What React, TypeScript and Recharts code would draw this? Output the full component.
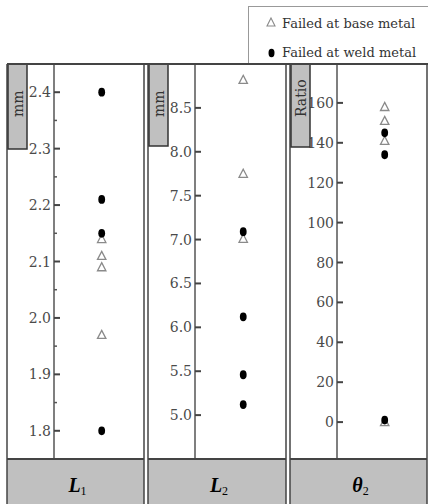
import React from "react";
import { ScatterChart, Scatter, XAxis, YAxis } from "recharts";

// values
const l1Base = [2.14, 2.11, 2.09, 1.97];
const l1Weld = [2.4, 2.21, 2.15, 1.8];
const l2Base = [8.82, 7.75, 7.01];
const l2Weld = [7.09, 6.12, 5.46, 5.12];
const t2Base = [158, 151, 141, 0];
const t2Weld = [145, 134, 1];

const l1Ticks = [1.8, 1.9, 2.0, 2.1, 2.2, 2.3, 2.4];
const l1Minor = [1.85, 1.95, 2.05, 2.15, 2.25, 2.35];
const l2Ticks = [5.0, 5.5, 6.0, 6.5, 7.0, 7.5, 8.0, 8.5];
const t2Ticks = [0, 20, 40, 60, 80, 100, 120, 140, 160];

const legendLabels = ["Failed at base metal", "Failed at weld metal"];

const TOP = 64;
const PLOT_H = 395;
const FONT = "'DejaVu Serif', serif";

const toPoints = (arr: number[]) => arr.map((v) => ({ x: 0.53, y: v }));

const Triangle = (props: any) => {
  const { cx, cy } = props;
  return (
    <path
      d={`M${cx},${cy - 4.5}L${cx + 4.2},${cy + 3.6}L${cx - 4.2},${cy + 3.6}Z`}
      fill="#fff"
      stroke="#8a8a8a"
      strokeWidth={1.3}
    />
  );
};

const Dot = (props: any) => {
  const { cx, cy } = props;
  return <ellipse cx={cx} cy={cy} rx={3.4} ry={4.4} fill="#000" />;
};

const makeTick = (minor: number[], digits: number) => (props: any) => {
  const { x, y, payload } = props;
  const ax = x + 3; // tickSize 0, tickMargin 3
  if (minor.includes(payload.value)) {
    return <line x1={ax} x2={ax + 3} y1={y} y2={y} stroke="#555" strokeWidth={1.5} />;
  }
  return (
    <g>
      <line x1={ax} x2={ax + 6} y1={y} y2={y} stroke="#444" strokeWidth={2} />
      <text
        x={x}
        y={y}
        dy="0.36em"
        textAnchor="end"
        fontFamily={FONT}
        fontSize={14}
        fill="#4a4a4a"
      >
        {payload.value.toFixed(digits)}
      </text>
    </g>
  );
};

type PanelProps = {
  left: number;
  width: number;
  axisX: number;
  domain: [number, number];
  ticks: number[];
  minor: number[];
  digits: number;
  base: number[];
  weld: number[];
};

const Panel = ({ left, width, axisX, domain, ticks, minor, digits, base, weld }: PanelProps) => (
  <div style={{ position: "absolute", left, top: TOP }}>
    <ScatterChart width={width} height={PLOT_H} margin={{ top: 0, right: 0, bottom: 0, left: 0 }}>
      <XAxis type="number" dataKey="x" domain={[0, 1]} hide />
      <YAxis
        type="number"
        dataKey="y"
        domain={domain}
        ticks={[...ticks, ...minor]}
        interval={0}
        width={axisX - left}
        axisLine={{ stroke: "#555", strokeWidth: 1.5 }}
        tickLine={false}
        tickSize={0}
        tickMargin={3}
        tick={makeTick(minor, digits)}
        allowDataOverflow
      />
      <Scatter data={toPoints(base)} shape={Triangle} isAnimationActive={false} />
      <Scatter data={toPoints(weld)} shape={Dot} isAnimationActive={false} />
    </ScatterChart>
  </div>
);

const panels = [
  { left: 7, right: 144, unit: "mm", boxBottom: 149, title: "L", sub: "1" },
  { left: 148, right: 286, unit: "mm", boxBottom: 146, title: "L", sub: "2" },
  { left: 290, right: 427, unit: "Ratio", boxBottom: 147, title: "\u03b8", sub: "2" },
];

export default function App() {
  return (
    <div
      style={{
        position: "absolute",
        left: 0,
        top: 0,
        width: 428,
        height: 504,
        overflow: "hidden",
        background: "#fff",
      }}
    >
      <Panel left={7} width={137} axisX={54} domain={[1.75, 2.45]} ticks={l1Ticks} minor={l1Minor} digits={1} base={l1Base} weld={l1Weld} />
      <Panel left={148} width={138} axisX={195} domain={[4.5, 9.0]} ticks={l2Ticks} minor={[]} digits={1} base={l2Base} weld={l2Weld} />
      <Panel left={290} width={137} axisX={337} domain={[-18.5, 179.5]} ticks={t2Ticks} minor={[]} digits={0} base={t2Base} weld={t2Weld} />

      <svg width={428} height={504} style={{ position: "absolute", left: 0, top: 0, pointerEvents: "none" }}>
        {/* legend */}
        <rect x={248.5} y={6.5} width={190} height={58} fill="#fff" stroke="#999" strokeWidth={1} />
        <path d="M271,18L275,26L267,26Z" fill="#fff" stroke="#8a8a8a" strokeWidth={1.1} />
        <text x={282} y={28} fontFamily={FONT} fontSize={13} fill="#333">
          {legendLabels[0]}
        </text>
        <ellipse cx={271.5} cy={53} rx={3} ry={4.2} fill="#000" />
        <text x={282} y={57} fontFamily={FONT} fontSize={13} fill="#333">
          {legendLabels[1]}
        </text>

        {panels.map((p, i) => (
          <g key={i}>
            <rect x={p.left} y={459} width={p.right - p.left} height={50} fill="#c0c0c0" />
            <line x1={p.left} x2={p.right} y1={459} y2={459} stroke="#444" strokeWidth={2} />
            <line x1={p.left} x2={p.left} y1={TOP} y2={510} stroke="#444" strokeWidth={1.5} />
            <line x1={p.right} x2={p.right} y1={TOP} y2={510} stroke="#444" strokeWidth={1.5} />
            <rect x={p.left + 1} y={TOP} width={19} height={p.boxBottom - TOP} fill="#c0c0c0" stroke="#333" strokeWidth={1.5} />
            <text
              x={p.left + 16}
              y={117}
              transform={`rotate(-90 ${p.left + 16} 117)`}
              fontFamily={FONT}
              fontSize={14}
              fill="#333"
            >
              {p.unit}
            </text>
            <text
              x={(p.left + p.right) / 2 + 2}
              y={492}
              textAnchor="middle"
              fontFamily="'Liberation Serif', serif"
              fontStyle="italic"
              fontWeight="bold"
              fontSize={20}
              fill="#000"
            >
              {p.title}
              <tspan fontSize={12} fontStyle="normal" fontWeight="normal" dy={3}>
                {p.sub}
              </tspan>
            </text>
          </g>
        ))}
        <line x1={7} x2={428} y1={TOP} y2={TOP} stroke="#444" strokeWidth={2} />
      </svg>
    </div>
  );
}
